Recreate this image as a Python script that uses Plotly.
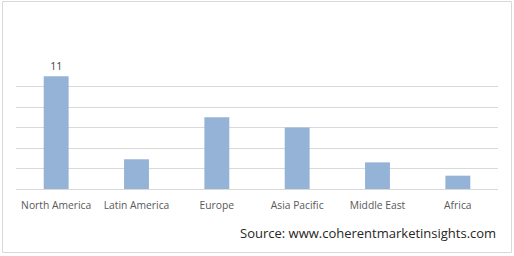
import plotly.graph_objects as go

regions = ["North America", "Latin America", "Europe", "Asia Pacific", "Middle East", "Africa"]
values = [11, 2.9, 7, 6, 2.6, 1.3]
labels = ["11", "", "", "", "", ""]
source_text = "Source: www.coherentmarketinsights.com"

fig = go.Figure(go.Bar(
    x=regions, y=values, text=labels, textposition="outside",
    marker=dict(color="#95b3d7", line=dict(width=0)),
    textfont=dict(family="Open Sans", size=10.5, color="#404040"),
    cliponaxis=False,
))

W, H = 514, 256
ml, mr, mt, mb = 16, 16, 66, 67
pw, ph = W - ml - mr, H - mt - mb

def px_x(p):
    return (p - ml) / pw

def px_y(p):
    return (H - mb - p) / ph

fig.update_layout(
    width=W, height=H,
    margin=dict(l=ml, r=mr, t=mt, b=mb),
    paper_bgcolor="white", plot_bgcolor="white",
    bargap=0.69,
    showlegend=False,
    font=dict(family="Open Sans", size=10, color="#595959"),
    xaxis=dict(showgrid=False, showline=True, linecolor="#d9d9d9", linewidth=1,
               ticks="", ticklabelstandoff=7,
               tickfont=dict(size=10.3, color="#595959")),
    yaxis=dict(range=[0, 12], dtick=2, showgrid=True, gridcolor="#d9d9d9",
               gridwidth=1, showticklabels=False, zeroline=False, showline=False),
    shapes=[dict(type="rect", xref="paper", yref="paper",
                 x0=px_x(2.5), x1=px_x(511.5), y0=px_y(252.5), y1=px_y(1.5),
                 line=dict(color="#d9d9d9", width=1), layer="below")],
    annotations=[dict(text=source_text, xref="paper", yref="paper",
                      x=px_x(497.5), y=px_y(233), xanchor="right", yanchor="middle",
                      showarrow=False,
                      font=dict(family="Open Sans", size=13, color="#262626"))],
)

fig.write_html("out.html")
